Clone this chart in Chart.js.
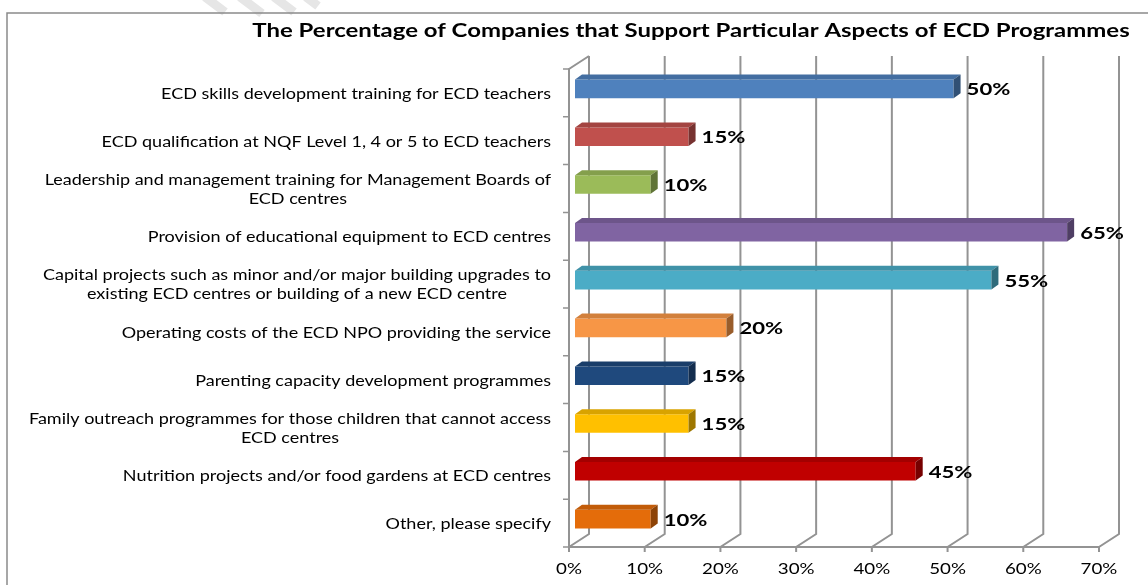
<!DOCTYPE html>
<html>
<head>
<meta charset="utf-8">
<title>ECD Programmes</title>
<script src="https://cdn.jsdelivr.net/npm/chart.js@4.4.1/dist/chart.umd.min.js"></script>
<style>
  html, body { margin: 0; padding: 0; background: #fff; }
  canvas { display: block; }
</style>
</head>
<body>
<canvas id="ecdChart" width="1148" height="585"></canvas>
<script>
const chartTitle = 'The Percentage of Companies that Support Particular Aspects of ECD Programmes';

const aspects = [
    ['ECD skills development training for ECD teachers'],
    ['ECD qualification at NQF Level 1, 4 or 5 to ECD teachers'],
    ['Leadership and management training for Management Boards of', 'ECD centres'],
    ['Provision of educational equipment to ECD centres'],
    ['Capital projects such as minor and/or major building upgrades to', 'existing ECD centres or building of a new ECD centre'],
    ['Operating costs of the ECD NPO providing the service'],
    ['Parenting capacity development programmes'],
    ['Family outreach programmes for those children that cannot access', 'ECD centres'],
    ['Nutrition projects and/or food gardens at ECD centres'],
    ['Other, please specify']
];

const percentages = [50, 15, 10, 65, 55, 20, 15, 15, 45, 10];

const barColours = ['#4F81BD', '#C0504D', '#9BBB59', '#8064A2', '#4BACC6',
                    '#F79646', '#1F497D', '#FFC000', '#C00000', '#E46C0A'];

const axisTicks = [0, 10, 20, 30, 40, 50, 60, 70];

// 3d look: depth of the back wall and of each bar, and the bar's position in that depth
const wallDepth = { dx: 20, dy: -13 };
const barShift = { dx: 6, dy: -4 };
const barDepth = { dx: 7, dy: -5 };
const gridColour = '#939393';
const family = 'Lato, "Open Sans", sans-serif';

function shade(hex, f) {
    const n = parseInt(hex.slice(1), 16);
    const r = Math.round(((n >> 16) & 255) * f);
    const g = Math.round(((n >> 8) & 255) * f);
    const b = Math.round((n & 255) * f);
    return `rgb(${r},${g},${b})`;
}

// text is drawn a bit wide, like the stretched Calibri of the original sheet
function wideText(ctx, text, x, y, align, sx) {
    ctx.save();
    ctx.translate(x, y);
    ctx.scale(sx, 1);
    ctx.textAlign = align;
    ctx.textBaseline = 'middle';
    ctx.fillText(text, 0, 0);
    ctx.restore();
}

const frame3d = {
    id: 'frame3d',
    beforeDraw(chart) {
        const ctx = chart.ctx;
        ctx.save();
        // faint slanted strokes across the top of the page
        ctx.strokeStyle = '#e6e6e6';
        ctx.lineWidth = 9;
        ctx.beginPath();
        [[205, 20], [240, 22], [274, 20], [306, 12]].forEach(([sx, len]) => {
            ctx.moveTo(sx, -3);
            ctx.lineTo(sx + len, -3 + len * 0.75);
        });
        ctx.stroke();

        ctx.strokeStyle = '#8a8a8a';
        ctx.lineWidth = 1.5;
        ctx.beginPath();
        ctx.moveTo(7, 600);
        ctx.lineTo(7, 13);
        ctx.lineTo(1160, 13);
        ctx.stroke();

        ctx.fillStyle = '#000';
        ctx.font = 'bold 18px ' + family;
        wideText(ctx, chartTitle, 691, 31, 'center', 1.33);
        ctx.restore();
    },
    beforeDatasetsDraw(chart) {
        const ctx = chart.ctx;
        const x = chart.scales.x, y = chart.scales.y;
        const area = chart.chartArea;
        const { dx, dy } = wallDepth;
        ctx.save();
        ctx.strokeStyle = gridColour;
        ctx.lineWidth = 2;
        ctx.beginPath();
        // back wall gridlines and the floor diagonals under them
        axisTicks.forEach(v => {
            const px = x.getPixelForValue(v);
            ctx.moveTo(px + dx, area.top + dy);
            ctx.lineTo(px + dx, area.bottom + dy);
            ctx.lineTo(px, area.bottom);
            ctx.lineTo(px, area.bottom + 5);
        });
        ctx.moveTo(area.left, area.bottom);
        ctx.lineTo(area.right, area.bottom);
        // side wall front edge with its top diagonal
        ctx.moveTo(area.left + dx, area.top + dy);
        ctx.lineTo(area.left, area.top);
        ctx.lineTo(area.left, area.bottom);
        ctx.stroke();

        ctx.lineWidth = 1.5;
        ctx.beginPath();
        const n = aspects.length;
        for (let i = 0; i <= n; i++) {
            const py = area.top + (area.bottom - area.top) * i / n;
            ctx.moveTo(area.left - 6, py);
            ctx.lineTo(area.left, py);
        }
        ctx.stroke();

        ctx.fillStyle = '#000';
        // value axis labels
        ctx.font = '15px ' + family;
        axisTicks.forEach(v => {
            wideText(ctx, v + '%', x.getPixelForValue(v), area.bottom + 22, 'center', 1.25);
        });

        // category labels: single lines sit right-aligned, wrapped labels centre their lines
        const sx = 1.2;
        const right = area.left - 18;
        aspects.forEach((lines, i) => {
            const cy = y.getPixelForTick(i) + 1;
            const lh = 19;
            if (lines.length === 1) {
                wideText(ctx, lines[0], right, cy, 'right', sx);
            } else {
                const w = Math.max(...lines.map(l => ctx.measureText(l).width)) * sx;
                lines.forEach((l, k) => {
                    wideText(ctx, l, right - w / 2, cy + (k - (lines.length - 1) / 2) * lh, 'center', sx);
                });
            }
        });
        ctx.restore();

        // bars sit a little into the depth of the box
        ctx.save();
        ctx.translate(barShift.dx, barShift.dy);
    },
    afterDatasetsDraw(chart) {
        const ctx = chart.ctx;
        const meta = chart.getDatasetMeta(0);
        const { dx, dy } = barDepth;
        meta.data.forEach((bar, i) => {
            const p = bar.getProps(['x', 'y', 'base', 'height'], true);
            const top = p.y - p.height / 2;
            const bottom = p.y + p.height / 2;
            const c = barColours[i];
            ctx.fillStyle = shade(c, 0.85);
            ctx.beginPath();
            ctx.moveTo(p.base, top);
            ctx.lineTo(p.base + dx, top + dy);
            ctx.lineTo(p.x + dx, top + dy);
            ctx.lineTo(p.x, top);
            ctx.closePath();
            ctx.fill();
            ctx.fillStyle = shade(c, 0.62);
            ctx.beginPath();
            ctx.moveTo(p.x, top);
            ctx.lineTo(p.x + dx, top + dy);
            ctx.lineTo(p.x + dx, bottom + dy);
            ctx.lineTo(p.x, bottom);
            ctx.closePath();
            ctx.fill();

            ctx.fillStyle = '#000';
            ctx.font = 'bold 17px ' + family;
            wideText(ctx, percentages[i] + '%', p.x + dx + 6, p.y + 1, 'left', 1.3);
        });
        ctx.restore();
    }
};

new Chart(document.getElementById('ecdChart'), {
    type: 'bar',
    data: {
        labels: aspects,
        datasets: [{
            data: percentages,
            backgroundColor: barColours,
            borderWidth: 0,
            categoryPercentage: 1,
            barPercentage: 0.39
        }]
    },
    options: {
        indexAxis: 'y',
        responsive: false,
        animation: false,
        layout: { padding: { top: 69, right: 49, bottom: 0, left: 0 } },
        plugins: {
            legend: { display: false },
            title: { display: false },
            tooltip: { enabled: false }
        },
        scales: {
            x: {
                min: 0,
                max: 70,
                grid: { display: false, drawTicks: false },
                border: { display: false },
                ticks: { display: false },
                afterFit(scale) { scale.height = 38; }
            },
            y: {
                grid: { display: false },
                border: { display: false },
                ticks: { display: false },
                afterFit(scale) { scale.width = 569; }
            }
        }
    },
    plugins: [frame3d]
});
</script>
</body>
</html>
